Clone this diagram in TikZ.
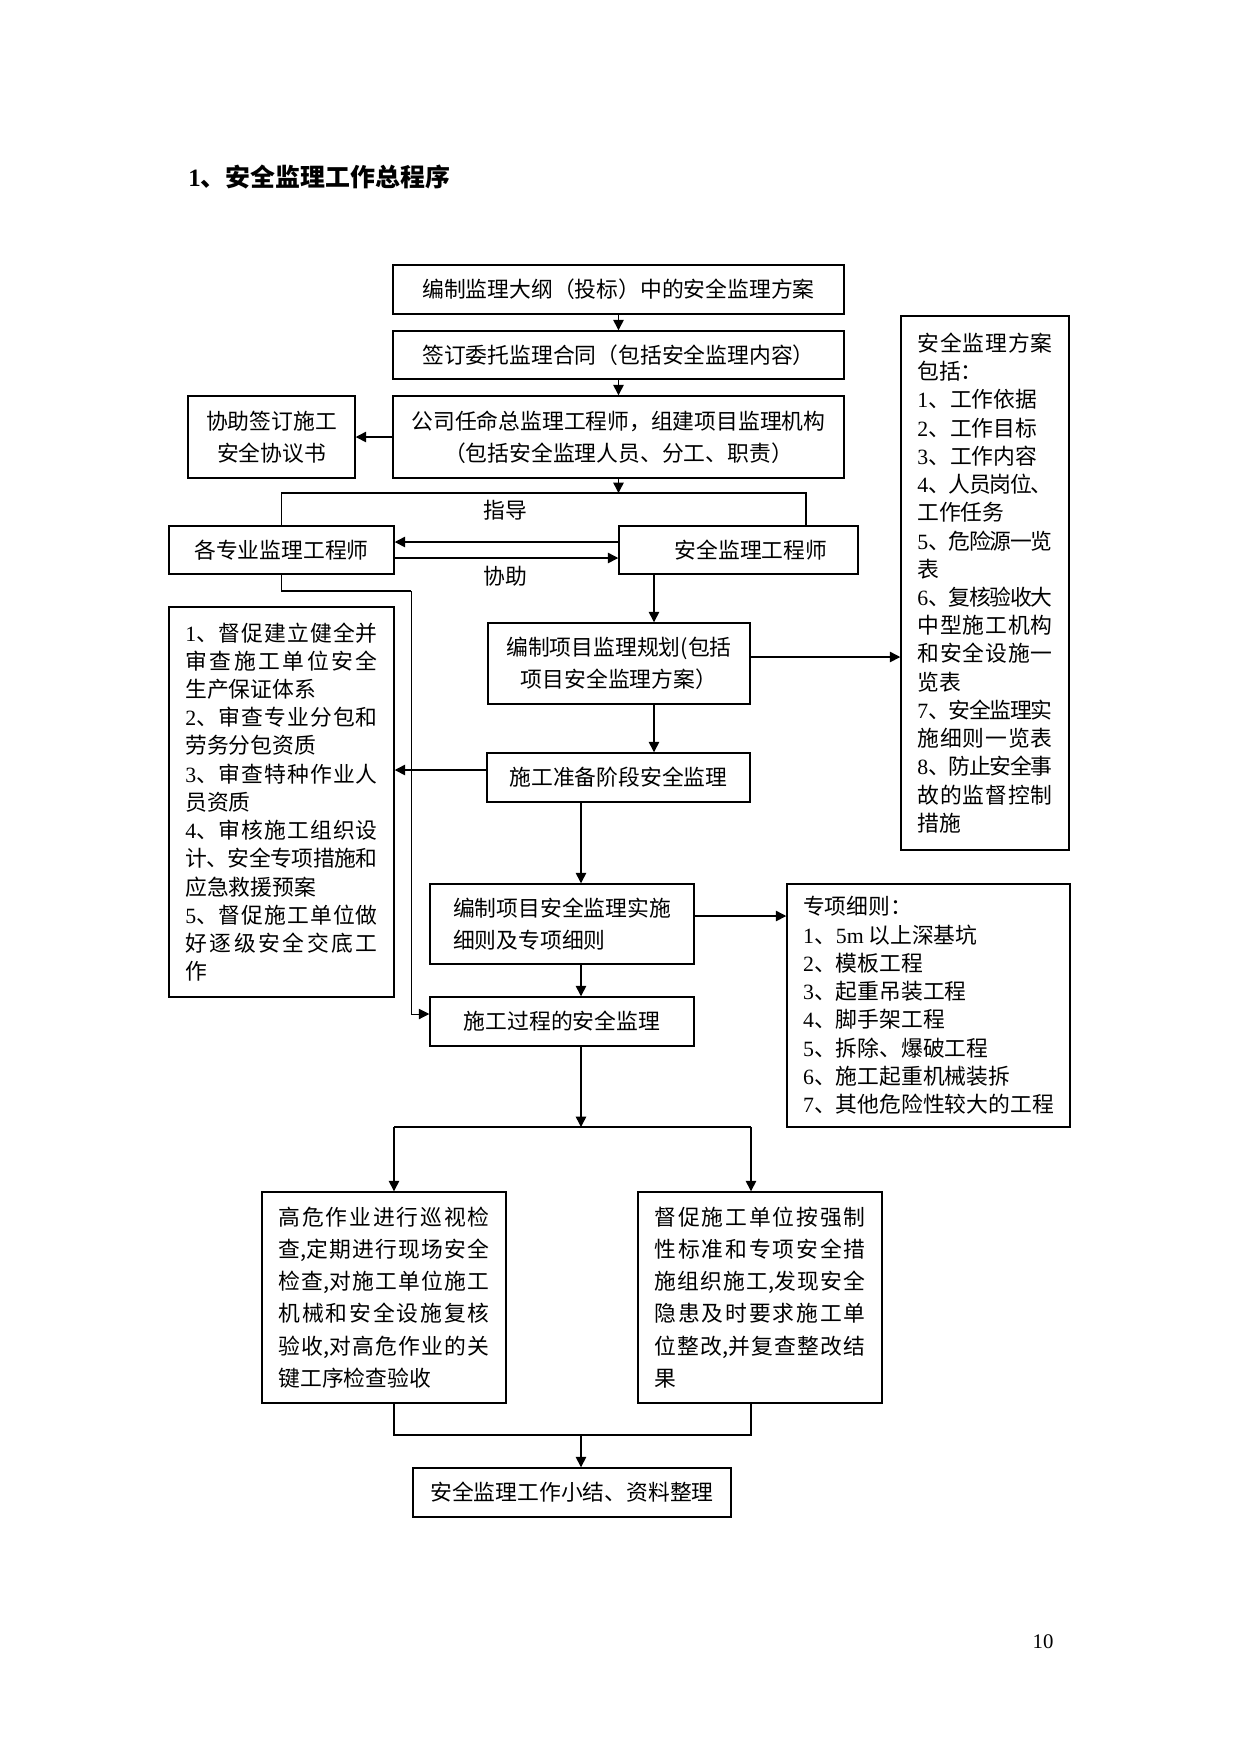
\documentclass[tikz,border=0pt]{standalone}
\usepackage{fontspec}
\setmainfont{Liberation Serif}
\newfontfamily\cjk{Noto Sans CJK SC}
\usetikzlibrary{arrows.meta,calc}
\XeTeXinterchartokenstate=1
\chardef\CJKcls=7
\newcount\cjkc
\cjkc="3000
\loop \XeTeXcharclass\cjkc=\CJKcls \advance\cjkc by 1 \ifnum\cjkc<"A000 \repeat
\cjkc="FF01
\loop \XeTeXcharclass\cjkc=\CJKcls \advance\cjkc by 1 \ifnum\cjkc<"FF5F \repeat
\XeTeXinterchartoks\CJKcls\CJKcls={\hskip0pt plus 4pt minus 1pt\relax}
\newlength\jw
\newcommand\J[1]{\hbox to\jw{#1}}
\newcommand\lat[1]{{\rmfamily #1}}
\tikzset{
  box/.style={draw, line width=0.7pt, inner sep=0pt, align=center,
    font={\cjk\fontsize{10.5pt}{15.6pt}\selectfont}},
  sz/.style 2 args={minimum width={#1*0.16933mm}, minimum height={#2*0.16933mm}},
  jbox/.style 2 args={draw, line width=0.7pt, inner sep=0pt, align=left,
    font={\cjk\fontsize{10.5pt}{#2}\selectfont\setlength\jw{#1}}},
  arr/.style={line width=0.7pt, -{Triangle[length=5pt,width=5pt]}},
  ln/.style={line width=0.7pt},
  thin/.style={line width=0.45pt},
  lab/.style={inner sep=0pt, font={\cjk\fontsize{10.5pt}{13pt}\selectfont}}
}
\begin{document}
\begin{tikzpicture}[x=0.16933mm,y=-0.16933mm]
\useasboundingbox (0,0) rectangle (1241,1754);
% title and page number
\node[anchor=west, inner sep=0pt, font={\cjk\bfseries\fontsize{12pt}{14pt}\selectfont}] (title) at (188,177) {\lat{1}、安全监理工作总程序};
\node[inner sep=0pt, font={\fontsize{10pt}{12pt}\selectfont}] (pg) at (1043,1642) {10};
% boxes
\node[box, sz={451}{49}] (b1) at (618.5,289.5) {编制监理大纲（投标）中的安全监理方案};
\node[box, sz={451}{48}] (b2) at (618.5,355) {签订委托监理合同（包括安全监理内容）};
\node[box, sz={451}{82}] (b3) at (618.5,437) {公司任命总监理工程师，组建项目监理机构\\（包括安全监理人员、分工、职责）};
\node[box, sz={167}{82}] (xy) at (271.5,437) {协助签订施工\\安全协议书};
\node[box, sz={225}{48}] (gz) at (281.5,550) {各专业监理工程师};
\node[box, sz={239}{48}] (aq) at (738.5,550) {\hspace*{12pt}安全监理工程师};
\node[box, sz={262}{81}] (gh) at (619,663.5) {编制项目监理规划(包括\\项目安全监理方案）};
\node[jbox={92.7pt}{13.6pt}, sz={225}{390}] (ll) at (281.5,802) {\J{\lat{1}、督促建立健全并}\\\J{审查施工单位安全}\\生产保证体系\\\J{\lat{2}、审查专业分包和}\\劳务分包资质\\\J{\lat{3}、审查特种作业人}\\员资质\\\J{\lat{4}、审核施工组织设}\\\J{计、安全专项措施和}\\应急救援预案\\\J{\lat{5}、督促施工单位做}\\\J{好逐级安全交底工}\\作};
\node[jbox={65.2pt}{13.6pt}, sz={168}{534}] (rb) at (985,583) {\J{安全监理方案}\\包括：\\\lat{1}、工作依据\\\lat{2}、工作目标\\\lat{3}、工作内容\\\J{\lat{4}、人员岗位、}\\工作任务\\\J{\lat{5}、危险源一览}\\表\\\J{\lat{6}、复核验收大}\\\J{中型施工机构}\\\J{和安全设施一}\\览表\\\J{\lat{7}、安全监理实}\\\J{施细则一览表}\\\J{\lat{8}、防止安全事}\\\J{故的监督控制}\\措施};
\node[box, sz={263}{49}] (zb) at (618.5,777.5) {施工准备阶段安全监理};
\node[box, align=left, sz={264}{80}] (ss) at (562,924) {编制项目安全监理实施\\细则及专项细则};
\node[jbox={0pt}{13.6pt}, sz={283}{243}] (zx) at (928.5,1005.5) {专项细则：\\\lat{1}、\lat{5m} 以上深基坑\\\lat{2}、模板工程\\\lat{3}、起重吊装工程\\\lat{4}、脚手架工程\\\lat{5}、拆除、爆破工程\\\lat{6}、施工起重机械装拆\\\lat{7}、其他危险性较大的工程};
\node[box, sz={264}{49}] (sg) at (562,1021.5) {施工过程的安全监理};
\node[jbox={101.7pt}{15.5pt}, sz={244}{211}] (gw) at (384,1297.5) {\J{高危作业进行巡视检}\\\J{查,定期进行现场安全}\\\J{检查,对施工单位施工}\\\J{机械和安全设施复核}\\\J{验收,对高危作业的关}\\键工序检查验收};
\node[jbox={101.7pt}{15.5pt}, sz={244}{211}] (dc) at (760,1297.5) {\J{督促施工单位按强制}\\\J{性标准和专项安全措}\\\J{施组织施工,发现安全}\\\J{隐患及时要求施工单}\\\J{位整改,并复查整改结}\\果};
\node[box, sz={318}{49}] (xj) at (572,1492.5) {安全监理工作小结、资料整理};
% labels
\node[lab] (lzd) at (505,510) {指导};
\node[lab] (lxz) at (505,576) {协助};
% helper coordinates
\coordinate (jm) at (618.5,493);
\coordinate (jl) at (281.5,493);
\coordinate (jr) at (806,493);
\coordinate (c1) at (281.5,591);
\coordinate (c2) at (411,591);
\coordinate (c3) at (411,1014);
\coordinate (ax) at (654,0);
\coordinate (bx) at (581,0);
\coordinate (sp) at (581,1127);
\coordinate (sl) at (394,1127);
\coordinate (sr) at (751,1127);
\coordinate (jp) at (581,1435);
\coordinate (ql) at (394,1435);
\coordinate (qr) at (751,1435);
% connectors
\draw[arr] (b1.south) -- (b2.north);
\draw[arr] (b2.south) -- (b3.north);
\draw[arr] (b3.west) -- (xy.east);
\draw[arr] (b3.south) -- (jm);
\draw[ln] (gz.north) -- (jl) -- (jr) -- (aq.north -| jr);
\draw[arr] ($(aq.west)+(0,-8)$) -- ($(gz.east)+(0,-8)$);
\draw[arr] ($(gz.east)+(0,8)$) -- ($(aq.west)+(0,8)$);
\draw[ln] (gz.south) -- (c1) -- (c2);
\draw[thin, -{Triangle[length=5pt,width=5pt]}] (c2) -- (c3) -- (sg.west |- c3);
\draw[arr] (aq.south -| ax) -- (gh.north -| ax);
\draw[arr] ($(gh.east)+(0,-6.5)$) -- ($(gh.east -| rb.west)+(0,-6.5)$);
\draw[arr] (gh.south -| ax) -- (zb.north -| ax);
\draw[arr] ($(zb.west)+(0,-7.5)$) -- ($(zb.west -| ll.east)+(0,-7.5)$);
\draw[arr] (zb.south -| bx) -- (ss.north -| bx);
\draw[arr] ($(ss.east)+(0,-8)$) -- ($(ss.east -| zx.west)+(0,-8)$);
\draw[arr] (ss.south -| bx) -- (sg.north -| bx);
\draw[arr] (sg.south -| bx) -- (sp);
\draw[ln] (sl) -- (sr);
\draw[arr] (sl) -- (gw.north -| sl);
\draw[arr] (sr) -- (dc.north -| sr);
\draw[ln] (gw.south -| ql) -- (ql) -- (qr) -- (dc.south -| qr);
\draw[arr] (jp) -- (xj.north -| bx);
\end{tikzpicture}
\end{document}
